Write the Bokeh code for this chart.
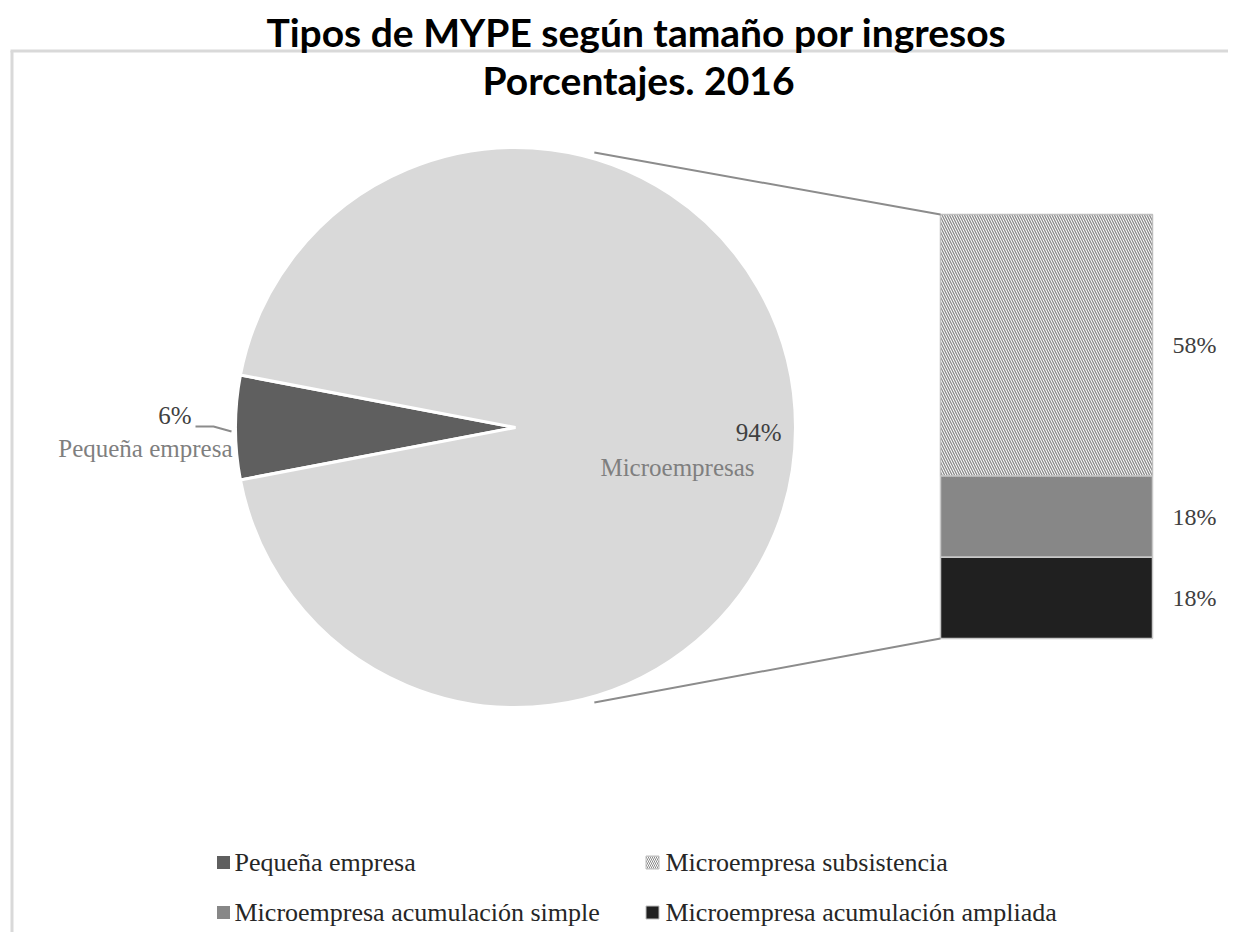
import numpy as np
from bokeh.plotting import figure
from bokeh.models import Range1d
from bokeh.embed import file_html
from bokeh.resources import INLINE
from bokeh.core.properties import value

# ---------------- data ----------------
title_lines = ["Tipos de MYPE según tamaño por ingresos", "Porcentajes. 2016"]
pie_labels = ["Pequeña empresa", "Microempresas"]
pie_values = [6, 94]
pie_colors = ["#5f5f5f", "#d9d9d9"]
bar_labels = ["Microempresa subsistencia", "Microempresa acumulación simple",
              "Microempresa acumulación ampliada"]
bar_values = [58, 18, 18]          # top -> bottom
bar_colors = ["white", "#878787", "#202020"]
legend_labels = ["Pequeña empresa", "Microempresa subsistencia",
                 "Microempresa acumulación simple", "Microempresa acumulación ampliada"]

# ---------------- layout helpers (reference pixel coords) ----------------
W, H = 1228, 932
OFF = 0
def X(x):
    return x - OFF
def Y(y):
    return H + OFF - y

SERIF = value("Liberation Serif")

p = figure(width=W, height=H, x_range=Range1d(0, W), y_range=Range1d(0, H),
           output_backend="svg", toolbar_location=None, min_border=0,
           x_axis_type=None, y_axis_type=None)
p.grid.visible = False
p.outline_line_color = None
p.background_fill_color = "white"
p.border_fill_color = "white"

# chart area border (only top/left visible)
p.line(x=[X(11.5), X(11.5)], y=[Y(50.5), Y(1000)], line_color="#d9d9d9", line_width=3)
p.line(x=[X(10), X(1300)], y=[Y(50.5), Y(50.5)], line_color="#d9d9d9", line_width=3)

# title
p.text(x=[X(636)], y=[Y(31)], text=[title_lines[0]], text_font=value("Lato"),
       text_font_style="bold", text_font_size="39px", text_align="center",
       text_baseline="middle", text_color="black")
p.text(x=[X(638)], y=[Y(79)], text=[title_lines[1]], text_font=value("Lato"),
       text_font_style="bold", text_font_size="39px", text_align="center",
       text_baseline="middle", text_color="black")

# ---------------- pie ----------------
cx, cy, r = X(515), Y(427), 280
total = float(sum(pie_values))
span_small = pie_values[0] / total * 2 * np.pi
s0 = np.pi - span_small / 2
e0 = np.pi + span_small / 2
starts = [s0, e0]
ends = [e0, s0 + 2 * np.pi]
p.wedge(x=[cx, cx], y=[cy, cy], radius=r, start_angle=starts, end_angle=ends,
        direction="anticlock", fill_color=pie_colors, line_color="white", line_width=3)

# pie labels
p.text(x=[X(781)], y=[Y(432)], text=[f"{pie_values[1]}%"], text_font=SERIF,
       text_font_size="25px", text_align="right", text_baseline="middle", text_color="#404040")
p.text(x=[X(677)], y=[Y(467)], text=[pie_labels[1]], text_font=SERIF,
       text_font_size="25px", text_align="center", text_baseline="middle", text_color="#7f7f7f")
p.text(x=[X(191)], y=[Y(415)], text=[f"{pie_values[0]}%"], text_font=SERIF,
       text_font_size="25px", text_align="right", text_baseline="middle", text_color="#404040")
p.text(x=[X(232)], y=[Y(448)], text=[pie_labels[0]], text_font=SERIF,
       text_font_size="25px", text_align="right", text_baseline="middle", text_color="#7f7f7f")
p.line(x=[X(195), X(213), X(231)], y=[Y(426), Y(426), Y(431)], line_color="#8c8c8c", line_width=2)

# ---------------- bar ----------------
bx0, bx1 = X(940), X(1152)
bar_bottom = Y(638)
unit = 424.0 / sum(bar_values)
heights = [v * unit for v in bar_values]
tops, bottoms = [0] * 3, [0] * 3
acc = bar_bottom
for i in range(2, -1, -1):
    bottoms[i] = acc
    tops[i] = acc + heights[i]
    acc = tops[i]

# hatched top segment
p.quad(left=[bx0], right=[bx1], bottom=[bottoms[0]], top=[tops[0]], fill_color="white",
       hatch_pattern="\\", hatch_color="#8a8a8a", hatch_scale=5, hatch_weight=1.3,
       line_color="#bfbfbf", line_width=1.5)
p.quad(left=[bx0, bx0], right=[bx1, bx1], bottom=bottoms[1:], top=tops[1:],
       fill_color=bar_colors[1:], line_color="#c8c8c8", line_width=1.5)

# bar labels
mids = [(b + t) / 2 for b, t in zip(bottoms, tops)]
p.text(x=[X(1172)] * 3, y=mids, text=[f"{v}%" for v in bar_values], text_font=SERIF,
       text_font_size="24px", text_align="left", text_baseline="middle", text_color="#404040")

# connector lines
ang = np.deg2rad(74)
rr = r + 6
p.line(x=[cx + rr * np.cos(ang), bx0], y=[cy + rr * np.sin(ang), tops[0]],
       line_color="#8c8c8c", line_width=2)
p.line(x=[cx + rr * np.cos(ang), bx0], y=[cy - rr * np.sin(ang), bottoms[2]],
       line_color="#8c8c8c", line_width=2)

# ---------------- legend ----------------
lx_sq = [X(223), X(652), X(223), X(652)]
ly = [Y(862), Y(862), Y(912), Y(912)]
lx_tx = [X(234), X(665), X(234), X(665)]
leg_fill = [pie_colors[0], "white", bar_colors[1], bar_colors[2]]
for i in range(4):
    if i == 1:
        p.rect(x=[lx_sq[i]], y=[ly[i]], width=13, height=13, fill_color="white",
               hatch_pattern="\\", hatch_color="#8a8a8a", hatch_scale=4, hatch_weight=1,
               line_color="#bfbfbf", line_width=1)
    else:
        p.rect(x=[lx_sq[i]], y=[ly[i]], width=13, height=13, fill_color=leg_fill[i],
               line_color="#bfbfbf" if i == 3 else None, line_width=1)
p.text(x=lx_tx, y=ly, text=legend_labels, text_font=SERIF, text_font_size="26px",
       text_align="left", text_baseline="middle", text_color="#262626")

open("out.html", "w").write(file_html(p, INLINE))
